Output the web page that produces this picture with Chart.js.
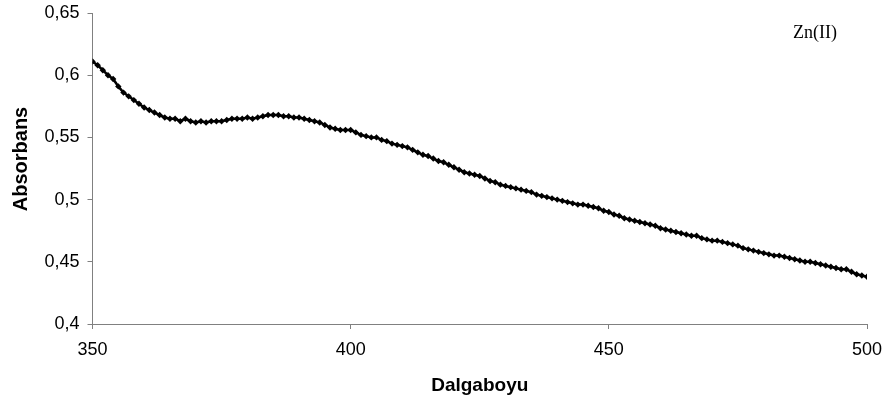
<!DOCTYPE html>
<html>
<head>
<meta charset="utf-8">
<script src="https://cdn.jsdelivr.net/npm/chart.js@4.4.1/dist/chart.umd.min.js"></script>
<style>
  html, body { margin: 0; padding: 0; background: #ffffff; }
  #wrap { width: 886px; height: 408px; position: relative; }
</style>
</head>
<body>
<div id="wrap"><canvas id="c" width="886" height="408"></canvas></div>
<script>
// Absorption spectrum of the Zn(II) sample, one reading per nanometre
const wavelengths = [];
for (let w = 350; w <= 500; w++) wavelengths.push(w);

const absorbance = [
  0.611, 0.608, 0.604, 0.600, 0.597, 0.591, 0.586, 0.583, 0.580, 0.577, // 350-359
  0.574, 0.572, 0.570, 0.568, 0.566, 0.565, 0.565, 0.563, 0.565, 0.563, // 360-369
  0.562, 0.563, 0.562, 0.563, 0.563, 0.563, 0.564, 0.565, 0.565, 0.565, // 370-379
  0.566, 0.565, 0.566, 0.567, 0.568, 0.568, 0.568, 0.567, 0.567, 0.566, // 380-389
  0.566, 0.565, 0.564, 0.563, 0.562, 0.560, 0.558, 0.557, 0.556, 0.556, // 390-399
  0.556, 0.554, 0.552, 0.551, 0.550, 0.550, 0.548, 0.547, 0.545, 0.544, // 400-409
  0.543, 0.542, 0.540, 0.538, 0.536, 0.535, 0.533, 0.531, 0.530, 0.528, // 410-419
  0.526, 0.524, 0.522, 0.521, 0.520, 0.519, 0.517, 0.515, 0.514, 0.512, // 420-429
  0.511, 0.510, 0.509, 0.508, 0.507, 0.506, 0.504, 0.503, 0.502, 0.501, // 430-439
  0.500, 0.499, 0.498, 0.497, 0.496, 0.496, 0.495, 0.494, 0.493, 0.491, // 440-449
  0.490, 0.488, 0.487, 0.485, 0.484, 0.483, 0.482, 0.481, 0.480, 0.479, // 450-459
  0.477, 0.476, 0.475, 0.474, 0.473, 0.472, 0.471, 0.471, 0.469, 0.468, // 460-469
  0.467, 0.467, 0.466, 0.465, 0.464, 0.463, 0.461, 0.460, 0.459, 0.458, // 470-479
  0.457, 0.456, 0.455, 0.455, 0.454, 0.453, 0.452, 0.451, 0.450, 0.450, // 480-489
  0.449, 0.448, 0.447, 0.446, 0.445, 0.444, 0.444, 0.442, 0.440, 0.439, // 490-499
  0.438                                                                  // 500
];

const xTicks = [350, 400, 450, 500];
const yTicks = [0.4, 0.45, 0.5, 0.55, 0.6, 0.65];

const seriesLabel = 'Zn(II)';
const xTitle = 'Dalgaboyu';
const yTitle = 'Absorbans';

const points = wavelengths.map((w, i) => ({ x: w, y: absorbance[i] }));

// Decimal comma, as in Turkish notation
const fmt = v => String(parseFloat(v.toFixed(2))).replace('.', ',');

const axisGray = '#808080';
const sans = "'Liberation Sans', Arial, sans-serif";
const serif = "'Liberation Serif', 'Times New Roman', serif";

// Axis titles and series caption drawn on the canvas
const captions = {
  id: 'captions',
  afterDraw(chart) {
    const { ctx, chartArea } = chart;
    ctx.save();
    ctx.fillStyle = '#000';
    ctx.textAlign = 'center';
    ctx.textBaseline = 'middle';

    ctx.font = 'bold 19px ' + sans;
    ctx.fillText(xTitle, (chartArea.left + chartArea.right) / 2, 386);

    ctx.save();
    ctx.translate(21, 159);
    ctx.rotate(-Math.PI / 2);
    ctx.font = 'bold 20px ' + sans;
    ctx.fillText(yTitle, 0, 0);
    ctx.restore();

    ctx.font = '18px ' + serif;
    ctx.fillText(seriesLabel, 815, 33);
    ctx.restore();
  }
};

new Chart(document.getElementById('c'), {
  type: 'line',
  data: {
    datasets: [{
      label: seriesLabel,
      data: points,
      borderColor: '#000',
      backgroundColor: '#000',
      borderWidth: 2.5,
      tension: 0,
      pointStyle: 'rectRot',
      pointRadius: 3.2,
      pointBorderWidth: 0,
      pointBackgroundColor: '#000'
    }]
  },
  options: {
    responsive: false,
    animation: false,
    events: [],
    layout: { padding: { left: 0, top: 13, right: 19, bottom: 0 } },
    plugins: { legend: { display: false }, tooltip: { enabled: false } },
    scales: {
      x: {
        type: 'linear',
        min: 350,
        max: 500,
        afterBuildTicks: s => { s.ticks = xTicks.map(v => ({ value: v })); },
        afterFit: s => { s.height = 84; s.paddingLeft = 0; s.paddingRight = 0; },
        border: { color: axisGray, width: 1 },
        grid: { drawOnChartArea: false, color: axisGray, tickLength: 5 },
        ticks: {
          color: '#000',
          font: { family: sans, size: 18 },
          padding: 10,
          maxRotation: 0,
          callback: v => String(v)
        }
      },
      y: {
        type: 'linear',
        min: 0.4,
        max: 0.65,
        afterBuildTicks: s => { s.ticks = yTicks.map(v => ({ value: v })); },
        afterFit: s => { s.width = 92.5; s.paddingTop = 0; s.paddingBottom = 0; },
        border: { color: axisGray, width: 1 },
        grid: { drawOnChartArea: false, color: axisGray, tickLength: 5 },
        ticks: {
          color: '#000',
          font: { family: sans, size: 18 },
          padding: 8,
          callback: v => fmt(v)
        }
      }
    }
  },
  plugins: [captions]
});
</script>
</body>
</html>
